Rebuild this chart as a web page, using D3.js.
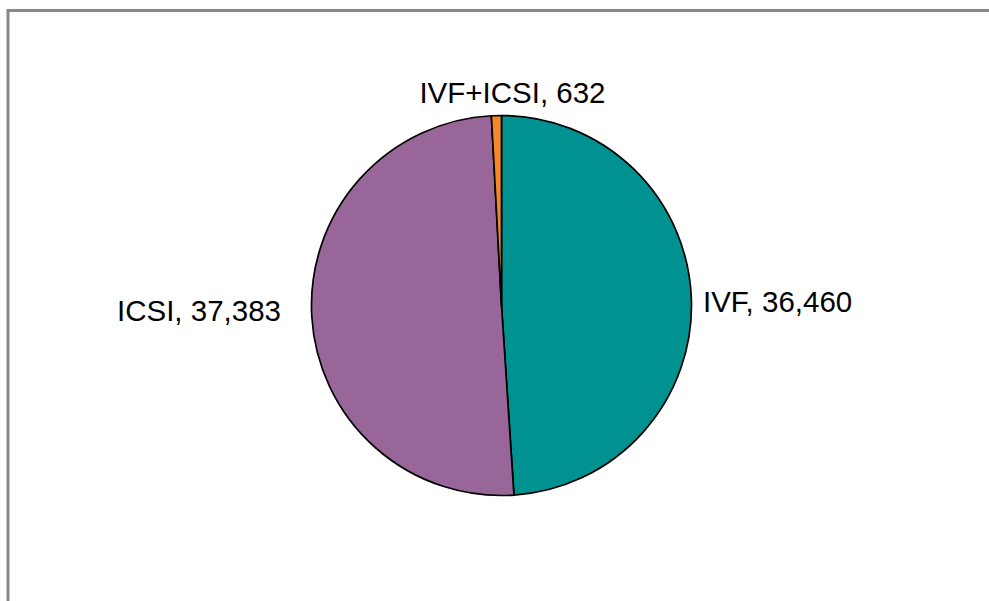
<!DOCTYPE html>
<html><head><meta charset="utf-8">
<script src="https://cdn.jsdelivr.net/npm/d3@7"></script>
<style>body{margin:0;background:#fff}svg{display:block}</style>
</head><body>
<svg id="c" width="989" height="601"></svg>
<script>
const categories = ["IVF", "ICSI", "IVF+ICSI"];
const values = [36460, 37383, 632];
const colors = ["#009191", "#996699", "#F5862A"];

const svg = d3.select("#c");
const W = 989, H = 601;
svg.append("rect").attr("x", 0).attr("y", 0).attr("width", W).attr("height", H).attr("fill", "#fff");
// outer chart border
svg.append("rect").attr("x", 8).attr("y", 10.5).attr("width", W + 20).attr("height", H + 20)
  .attr("fill", "none").attr("stroke", "#878787").attr("stroke-width", 3);

const cx = 501.5, cy = 305.5, r = 190;
const data = categories.map((c, i) => ({cat: c, value: values[i], color: colors[i]}));
const pie = d3.pie().sort(null).value(d => d.value);
const arcs = pie(data);
const arc = d3.arc().innerRadius(0).outerRadius(r);
const g = svg.append("g").attr("transform", `translate(${cx},${cy})`);
g.selectAll("path").data(arcs).enter().append("path")
  .attr("d", arc).attr("fill", d => d.data.color)
  .attr("stroke", "#000").attr("stroke-width", 1.7).attr("stroke-linejoin", "round");

const fmt = d3.format(",");
arcs.forEach(a => {
  const mid = (a.startAngle + a.endAngle) / 2;
  const s = Math.sin(mid), c = -Math.cos(mid);
  let x, y, anchor;
  if (Math.abs(s) < 0.3) { // top/bottom
    x = r * s + 16; y = -r - 13; anchor = "middle";
  } else if (s > 0) {
    x = r + 11.5; y = r * c + 13; anchor = "start";
  } else {
    x = -r - 30.5; y = r * c + 4; anchor = "end";
  }
  g.append("text").attr("x", x).attr("y", y).attr("text-anchor", anchor)
    .attr("font-family", "Liberation Sans, Arial, sans-serif").attr("font-size", 29.5)
    .attr("fill", "#000")
    .text(`${a.data.cat}, ${fmt(a.data.value)}`);
});
</script>
</body></html>
